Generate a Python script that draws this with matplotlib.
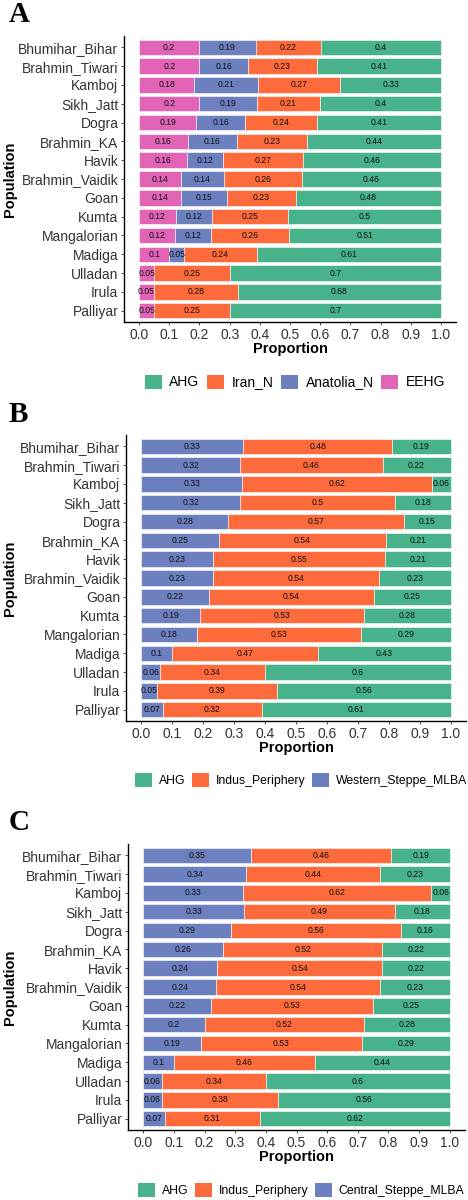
import numpy as np
import matplotlib
matplotlib.use('Agg')
import matplotlib.pyplot as plt
from matplotlib.patches import Patch

plt.rcParams['font.family'] = ['Liberation Sans', 'DejaVu Sans']

# populations, top to bottom
populations = ['Bhumihar_Bihar', 'Brahmin_Tiwari', 'Kamboj', 'Sikh_Jatt', 'Dogra',
               'Brahmin_KA', 'Havik', 'Brahmin_Vaidik', 'Goan', 'Kumta',
               'Mangalorian', 'Madiga', 'Ulladan', 'Irula', 'Palliyar']

# Panel A
a_eehg = [0.2, 0.2, 0.18, 0.2, 0.19, 0.16, 0.16, 0.14, 0.14, 0.12, 0.12, 0.1, 0.05, 0.05, 0.05]
a_anatolia = [0.19, 0.16, 0.21, 0.19, 0.16, 0.16, 0.12, 0.14, 0.15, 0.12, 0.12, 0.05, 0, 0, 0]
a_iran = [0.22, 0.23, 0.27, 0.21, 0.24, 0.23, 0.27, 0.26, 0.23, 0.25, 0.26, 0.24, 0.25, 0.28, 0.25]
a_ahg = [0.4, 0.41, 0.33, 0.4, 0.41, 0.44, 0.46, 0.46, 0.48, 0.5, 0.51, 0.61, 0.7, 0.68, 0.7]

# Panel B
b_steppe = [0.33, 0.32, 0.33, 0.32, 0.28, 0.25, 0.23, 0.23, 0.22, 0.19, 0.18, 0.1, 0.06, 0.05, 0.07]
b_indus = [0.48, 0.46, 0.62, 0.5, 0.57, 0.54, 0.55, 0.54, 0.54, 0.53, 0.53, 0.47, 0.34, 0.39, 0.32]
b_ahg = [0.19, 0.22, 0.06, 0.18, 0.15, 0.21, 0.21, 0.23, 0.25, 0.28, 0.29, 0.43, 0.6, 0.56, 0.61]

# Panel C
c_steppe = [0.35, 0.34, 0.33, 0.33, 0.29, 0.26, 0.24, 0.24, 0.22, 0.2, 0.19, 0.1, 0.06, 0.06, 0.07]
c_indus = [0.46, 0.44, 0.62, 0.49, 0.56, 0.52, 0.54, 0.54, 0.53, 0.52, 0.53, 0.46, 0.34, 0.38, 0.31]
c_ahg = [0.19, 0.23, 0.06, 0.18, 0.16, 0.22, 0.22, 0.23, 0.25, 0.28, 0.29, 0.44, 0.6, 0.56, 0.62]

GREEN = '#48B38A'
ORANGE = '#FD6B3D'
BLUE = '#6C80BF'
PINK = '#E264B7'

fig = plt.figure(figsize=(4.68, 12), dpi=100)
W, H = 468, 1200


def px_axes(left, right, top, bottom):
    return fig.add_axes([left / W, 1 - bottom / H, (right - left) / W, (bottom - top) / H])


def draw_panel(ax, segments, colors):
    y = np.arange(len(populations))
    data = np.array(segments, dtype=float)
    data = data / data.sum(axis=0)  # bars span 0..1
    left = np.zeros(len(populations))
    for k, (vals, col) in enumerate(zip(data, colors)):
        ax.barh(y, vals, left=left, height=0.82, color=col, edgecolor='white', linewidth=0.4)
        for i in range(len(populations)):
            raw = segments[k][i]
            if raw > 0:
                ax.text(left[i] + vals[i] / 2, y[i], f'{raw:g}', ha='center', va='center',
                        fontsize=6.2, color='#111111')
        left += vals
    ax.set_ylim(len(populations) - 0.4, -0.6)
    ax.set_xlim(-0.05, 1.05)
    ax.set_yticks(y)
    ax.set_yticklabels(populations, fontsize=10, color='#333333')
    ax.set_xticks(np.arange(0, 1.01, 0.1))
    ax.set_xticklabels([f'{t:.1f}' for t in np.arange(0, 1.01, 0.1)], fontsize=10, color='#333333')
    ax.tick_params(length=2.5, width=0.6, color='#333333', pad=1.5)
    for s in ['top', 'right']:
        ax.spines[s].set_visible(False)
    for s in ['left', 'bottom']:
        ax.spines[s].set_linewidth(1.0)
    ax.set_xlabel('Proportion', fontsize=10.5, fontweight='bold', labelpad=0)


def add_legend(labels, colors, cx, cy, fs):
    handles = [Patch(facecolor=c, edgecolor='none') for c in colors]
    size = 17 / (fs * 100 / 72)  # keep 17 px keys
    fig.legend(handles, labels, loc='center', bbox_to_anchor=(cx / W, 1 - cy / H),
               ncol=len(labels), frameon=False, fontsize=fs, handlelength=size,
               handleheight=size * 0.95, handletextpad=0.55, columnspacing=0.55,
               borderpad=0, borderaxespad=0)


# Panel A
axA = px_axes(124, 456, 36, 322)
draw_panel(axA, [a_eehg, a_anatolia, a_iran, a_ahg], [PINK, BLUE, ORANGE, GREEN])
add_legend(['AHG', 'Iran_N', 'Anatolia_N', 'EEHG'], [GREEN, ORANGE, BLUE, PINK], 295, 382, 10)

# Panel B
axB = px_axes(126, 466, 435, 721)
draw_panel(axB, [b_steppe, b_indus, b_ahg], [BLUE, ORANGE, GREEN])
add_legend(['AHG', 'Indus_Periphery', 'Western_Steppe_MLBA'], [GREEN, ORANGE, BLUE], 301, 780, 8.8)

# Panel C
axC = px_axes(128, 465, 844, 1130)
draw_panel(axC, [c_steppe, c_indus, c_ahg], [BLUE, ORANGE, GREEN])
add_legend(['AHG', 'Indus_Periphery', 'Central_Steppe_MLBA'], [GREEN, ORANGE, BLUE], 301, 1190, 8.8)

# panel letters and y labels
for letter, ly, (top, bottom) in [('A', 15, (36, 322)), ('B', 414, (435, 721)), ('C', 822, (844, 1130))]:
    fig.text(9 / W, 1 - ly / H, letter, fontsize=21, fontweight='bold',
             family=['Liberation Serif', 'DejaVu Serif'], va='center', ha='left')
    fig.text(10 / W, 1 - (top + bottom) / 2 / H, 'Population', rotation=90, fontsize=10.5,
             fontweight='bold', va='center', ha='center')

fig.savefig('out.png', dpi=100)
